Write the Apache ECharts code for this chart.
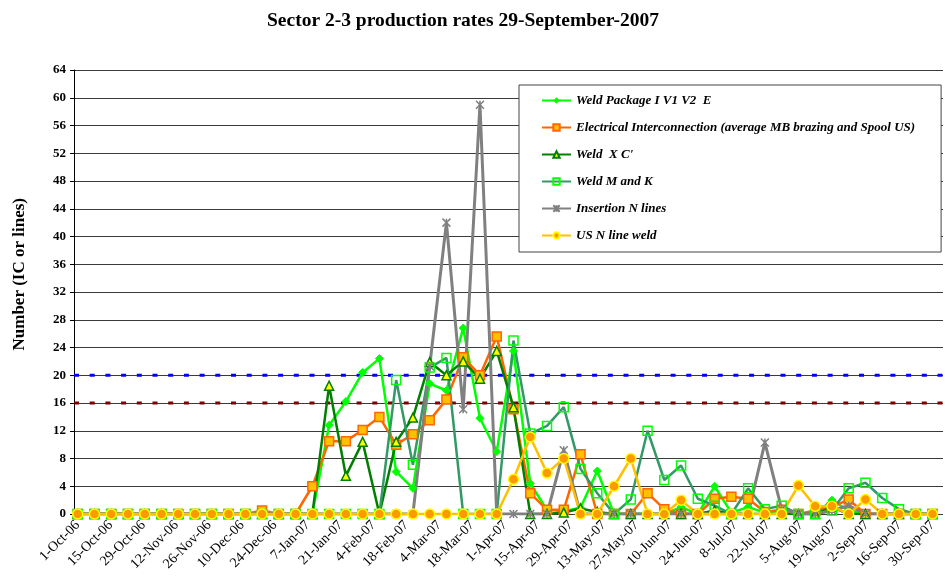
<!DOCTYPE html>
<html>
<head>
<meta charset="utf-8">
<script src="https://cdn.jsdelivr.net/npm/echarts@6/dist/echarts.min.js"></script>
<style>
  html, body { margin: 0; padding: 0; background: #fff; }
  #chart { width: 945px; height: 582px; }
</style>
</head>
<body>
<div id="chart"></div>
<script>
// tick labels on the date axis (every 2 weeks)
var tickLabels = ['1-Oct-06', '15-Oct-06', '29-Oct-06', '12-Nov-06', '26-Nov-06', '10-Dec-06', '24-Dec-06',
  '7-Jan-07', '21-Jan-07', '4-Feb-07', '18-Feb-07', '4-Mar-07', '18-Mar-07', '1-Apr-07', '15-Apr-07',
  '29-Apr-07', '13-May-07', '27-May-07', '10-Jun-07', '24-Jun-07', '8-Jul-07', '22-Jul-07', '5-Aug-07',
  '19-Aug-07', '2-Sep-07', '16-Sep-07', '30-Sep-07'];

// one point per week, 52 weeks
var weeks = [];
for (var i = 0; i < 52; i++) weeks.push('W' + (i + 1));

var weldPackage = [0, 0, 0, 0, 0, 0, 0, 0, 0, 0, 0, 0, 0, 0, 0, 12.8, 16.2, 20.4, 22.4, 6.1,
  3.7, 18.8, 17.8, 26.8, 13.8, 9.0, 23.5, 4.4, 0.6, 0.4, 0.9, 6.2, 0, 0, 0, 0, 1.0, 0, 4.0, 0.2,
  1.0, 0.2, 0.5, 0, 0, 2.0, 0.5, 0, 0, 0, 0, 0];
var electrical = [0, 0, 0, 0, 0, 0, 0, 0, 0, 0, 0, 0.5, 0, 0, 4.0, 10.5, 10.5, 12.1, 14.0, 10.0,
  11.5, 13.5, 16.5, 22.6, 20.0, 25.6, 15.1, 3.0, 0.6, 0.6, 8.6, 0, 0, 0, 3.0, 0.7, 0, 0, 2.2, 2.5,
  2.2, 0.3, 0.6, 0, 0.5, 1.0, 2.1, 0, 0, 0, 0, 0];
var weldXC = [0, 0, 0, 0, 0, 0, 0, 0, 0, 0, 0, 0, 0, 0, 0, 18.5, 5.5, 10.4, 0, 10.4,
  13.9, 21.9, 20.0, 22.0, 19.5, 23.5, 15.4, 0, 0, 0.2, 0.8, 0.3, 0, 0, 0, 0, 0, 0, 0.5, 0,
  0, 0, 0, 0, 0, 1.0, 0, 0, 0, 0, 0, 0];
var weldMK = [0, 0, 0, 0, 0, 0, 0, 0, 0, 0, 0, 0, 0, 0, 0, 0, 0, 0, 0, 19.3,
  7.1, 21.1, 22.5, 0, 0, 0, 25.0, 11.6, 12.7, 15.4, 6.5, 3.0, 0, 2.1, 12.0, 4.9, 7.0, 2.2, 1.2, 0,
  3.7, 0.7, 1.2, 0, 0, 0.5, 3.7, 4.5, 2.3, 0.7, 0, 0];
var insertionN = [0, 0, 0, 0, 0, 0, 0, 0, 0, 0, 0, 0, 0, 0, 0, 0, 0, 0, 0, 0,
  0, 21.3, 42, 15.1, 59, 0, 0, 0, 0, 9.2, 0, 0, 0, 0, 0, 0, 0, 0, 0, 0,
  0, 10.3, 0.7, 0, 0, 0.5, 1.2, 0, 0, 0, 0, 0];
var usNWeld = [0, 0, 0, 0, 0, 0, 0, 0, 0, 0, 0, 0, 0, 0, 0, 0, 0, 0, 0, 0,
  0, 0, 0, 0, 0, 0, 5.0, 11.1, 5.9, 8.0, 0, 0, 4.0, 8.0, 0, 0, 2.0, 0, 0, 0,
  0, 0, 0, 4.1, 1.1, 1.1, 0, 2.1, 0, 0, 0, 0];

// target rates
var targetHigh = 20;
var targetLow = 16;

var serif = 'Liberation Serif';
var chart = echarts.init(document.getElementById('chart'));

function dataSeries(name, data, color, symbol, size, itemStyle, width) {
  return {
    name: name,
    type: 'line',
    xAxisIndex: 1,
    yAxisIndex: 1,
    data: data,
    symbol: symbol,
    symbolSize: size,
    showAllSymbol: true,
    lineStyle: { color: color, width: width || 2.5 },
    itemStyle: itemStyle,
    animation: false
  };
}

function targetSeries(value, color) {
  return {
    type: 'line',
    xAxisIndex: 0,
    yAxisIndex: 0,
    data: [[0, value], [1, value]],
    symbol: 'none',
    lineStyle: { color: color, width: 3, type: [5, 10.7] },
    silent: true,
    animation: false
  };
}

var option = {
  backgroundColor: '#fff',
  title: {
    text: 'Sector 2-3 production rates 29-September-2007',
    left: 262,
    top: 6,
    textStyle: { fontFamily: serif, fontWeight: 'bold', fontSize: 19.5, color: '#000' }
  },
  legend: {
    data: ['Weld Package I V1 V2  E', 'Electrical Interconnection (average MB brazing and Spool US)',
      'Weld  X C\'', 'Weld M and K', 'Insertion N lines', 'US N line weld'],
    orient: 'vertical',
    left: 519,
    top: 85,
    padding: [9, 26, 10, 22],
    itemGap: 14,
    itemWidth: 29,
    itemHeight: 8,
    borderColor: '#444',
    borderWidth: 1,
    backgroundColor: '#fff',
    textStyle: { fontFamily: serif, fontStyle: 'italic', fontWeight: 'bold', fontSize: 13, color: '#000' }
  },
  graphic: [{
    type: 'text',
    left: 11,
    top: 198,
    rotation: Math.PI / 2,
    style: {
      text: 'Number (IC or lines)',
      font: 'bold 17px "Liberation Serif"',
      fill: '#000'
    }
  }],
  grid: [
    { left: 74, right: 2, top: 70, bottom: 68 },
    { left: 77.7, right: 12.5, top: 70, bottom: 68 }
  ],
  xAxis: [
    { gridIndex: 0, type: 'value', min: 0, max: 1, show: false },
    { gridIndex: 1, type: 'category', data: weeks, boundaryGap: false, show: false },
    {
      gridIndex: 1, type: 'category', data: tickLabels, boundaryGap: false, position: 'bottom',
      axisLine: { show: false }, axisTick: { show: false }, splitLine: { show: false },
      axisLabel: { interval: 0, rotate: 45, margin: 9, fontFamily: serif, fontSize: 14, color: '#000' }
    }
  ],
  yAxis: [
    {
      gridIndex: 0, type: 'value', min: 0, max: 64, interval: 4,
      axisLine: { show: true, lineStyle: { color: '#000', width: 1 } },
      axisTick: { show: true, length: 4, lineStyle: { color: '#000' } },
      axisLabel: { fontFamily: serif, fontWeight: 'bold', fontSize: 13, color: '#000', margin: 8 },
      splitLine: { lineStyle: { color: '#3a3a3a', width: 1.2 } }
    },
    { gridIndex: 1, type: 'value', min: 0, max: 64, show: false }
  ],
  series: [
    targetSeries(targetHigh, '#0000FF'),
    targetSeries(targetLow, '#800000'),
    dataSeries('Weld Package I V1 V2  E', weldPackage, '#00FF00', 'diamond', 8,
      { color: '#00FF00', borderColor: '#00FF00' }),
    dataSeries('Electrical Interconnection (average MB brazing and Spool US)', electrical, '#FF6600', 'rect', 9,
      { color: '#FFC000', borderColor: '#FF6600', borderWidth: 1.5 }),
    dataSeries('Weld  X C\'', weldXC, '#008000', 'triangle', 9,
      { color: '#FFFF00', borderColor: '#008000', borderWidth: 1.5 }),
    dataSeries('Weld M and K', weldMK, '#339966', 'rect', 9,
      { color: 'rgba(0,0,0,0)', borderColor: '#00FF00', borderWidth: 1.5 }),
    dataSeries('Insertion N lines', insertionN, '#808080', 'path://M0,0L10,10M10,0L0,10M5,0L5,10', 8,
      { color: 'rgba(0,0,0,0)', borderColor: '#808080', borderWidth: 1.5 }, 3),
    dataSeries('US N line weld', usNWeld, '#FFC000', 'circle', 10,
      { color: '#FF9900', borderColor: '#FFFF00', borderWidth: 1.5 })
  ]
};

chart.setOption(option);
</script>
</body>
</html>
